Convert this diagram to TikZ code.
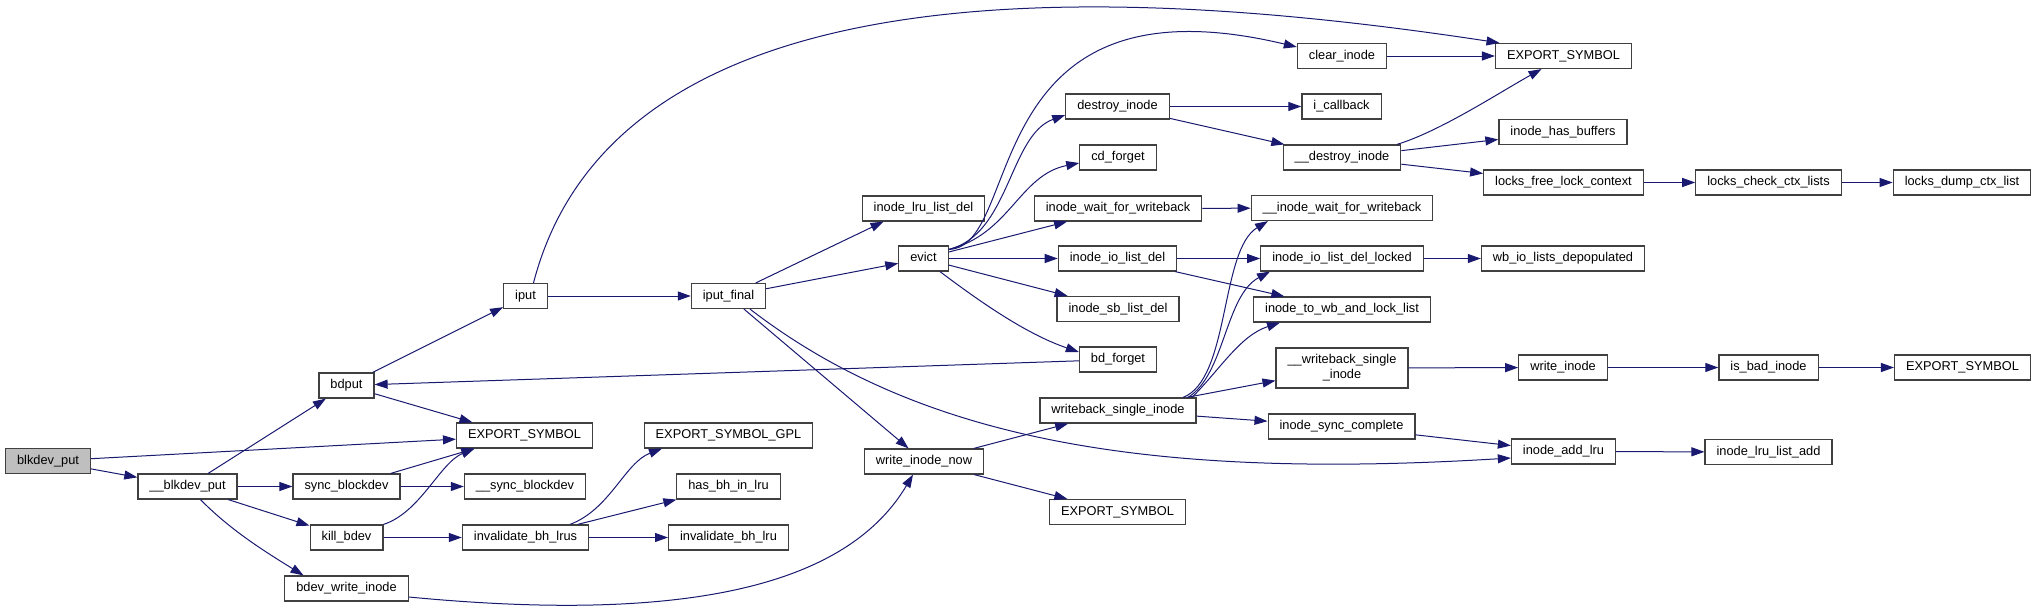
\documentclass[tikz,border=0pt]{standalone}
\usepackage{fontspec}
\setmainfont{Liberation Sans}
\usepackage{xcolor}
\usepackage{tikz}
\usetikzlibrary{arrows.meta}

\definecolor{edgeblue}{HTML}{191970}
\definecolor{rootgray}{HTML}{BFBFBF}

\begin{document}
\begin{tikzpicture}[x=1pt, y=-1pt,
    base/.style={rectangle, draw=black!75, line width=1.2pt, fill=white, minimum height=25pt, inner xsep=11.5pt, inner ysep=2pt, align=center, font=\fontsize{12.8}{15}\selectfont},
    func/.style={base, text height=9.5pt, text depth=3pt},
    func2/.style={base, minimum height=40pt},
    root/.style={func, fill=rootgray},
    call/.style={draw=edgeblue, line width=1pt, -{Triangle[length=13pt, width=9pt]}}
]
\useasboundingbox (0,0) rectangle (2039,613);

\node[root] (blkdevput) at (48,461) {blkdev\_put};
\node[func] (blkput) at (187.5,486.5) {\_\_blkdev\_put};
\node[func] (bdput) at (346.5,385.5) {bdput};
\node[func] (syncbd) at (346.5,486.5) {sync\_blockdev};
\node[func] (killbdev) at (346.5,537.5) {kill\_bdev};
\node[func] (bdevwi) at (346.5,588.5) {bdev\_write\_inode};
\node[func] (exportA) at (524.5,435.5) {EXPORT\_SYMBOL};
\node[func] (syncbdA) at (525,486.5) {\_\_sync\_blockdev};
\node[func] (invlrus) at (525.5,537.5) {invalidate\_bh\_lrus};
\node[func] (iput) at (525.5,296) {iput};
\node[func] (iputfinal) at (728.5,296) {iput\_final};
\node[func] (exportgpl) at (728.5,435.5) {EXPORT\_SYMBOL\_GPL};
\node[func] (hasbh) at (728.5,486.5) {has\_bh\_in\_lru};
\node[func] (invlru) at (728.5,537.5) {invalidate\_bh\_lru};
\node[func] (lrudel) at (923.5,208.5) {inode\_lru\_list\_del};
\node[func] (evict) at (923.5,258.5) {evict};
\node[func] (writenow) at (924,461.5) {write\_inode\_now};
\node[func] (destroy) at (1117.5,106.5) {destroy\_inode};
\node[func] (cdforget) at (1118,157.5) {cd\_forget};
\node[func] (waitwb) at (1118,208.5) {inode\_wait\_for\_writeback};
\node[func] (iodel) at (1117.5,258.5) {inode\_io\_list\_del};
\node[func] (sbdel) at (1118,309) {inode\_sb\_list\_del};
\node[func] (bdforget) at (1118,359.5) {bd\_forget};
\node[func] (wbsingle) at (1118,410.5) {writeback\_single\_inode};
\node[func] (exportB) at (1117.5,512) {EXPORT\_SYMBOL};
\node[func] (clear) at (1342,56) {clear\_inode};
\node[func] (icallback) at (1341.5,106.5) {i\_callback};
\node[func] (destroyA) at (1342,157.5) {\_\_destroy\_inode};
\node[func] (waitwbA) at (1342,208) {\_\_inode\_wait\_for\_writeback};
\node[func] (iodellocked) at (1342,258.5) {inode\_io\_list\_del\_locked};
\node[func] (towb) at (1342,309.5) {inode\_to\_wb\_and\_lock\_list};
\node[func2] (wbsingleA) at (1342,368) {\_\_writeback\_single\\\_inode};
\node[func] (synccomplete) at (1341.5,426.5) {inode\_sync\_complete};
\node[func] (exportC) at (1563.5,56) {EXPORT\_SYMBOL};
\node[func] (hasbuffers) at (1563,132) {inode\_has\_buffers};
\node[func] (lockfree) at (1563.5,182.5) {locks\_free\_lock\_context};
\node[func] (depop) at (1563,258.5) {wb\_io\_lists\_depopulated};
\node[func] (writeinode) at (1563,367.5) {write\_inode};
\node[func] (addlru) at (1563.5,451.5) {inode\_add\_lru};
\node[func] (checkctx) at (1768.5,182.5) {locks\_check\_ctx\_lists};
\node[func] (badinode) at (1768.5,367.5) {is\_bad\_inode};
\node[func] (lruadd) at (1768.5,452) {inode\_lru\_list\_add};
\node[func] (dumpctx) at (1962,182.5) {locks\_dump\_ctx\_list};
\node[func] (exportD) at (1962.5,367.5) {EXPORT\_SYMBOL};

\draw[call] (blkdevput) -- (exportA);
\draw[call] (blkdevput) -- (blkput);
\draw[call] (blkput) -- (bdput);
\draw[call] (blkput) -- (syncbd);
\draw[call] (blkput) -- (killbdev);
\draw[call] ([xshift=13pt]blkput.south) .. controls ([shift={(42.5,30)}]blkput.south) and ([shift={(-83.5,-25)}]bdevwi.north) .. ([xshift=-43pt]bdevwi.north);
\draw[call] (bdput) -- (iput);
\draw[call] (bdput) -- ([xshift=-52pt]exportA.north);
\draw[call] (syncbd) -- ([xshift=-50pt]exportA.south);
\draw[call] (syncbd) -- (syncbdA);
\draw[call] (killbdev.north east) .. controls ([shift={(37,-12)}]killbdev.north east) and ([shift={(-84.5,14)}]exportA.south) .. ([xshift=-50pt]exportA.south);
\draw[call] (killbdev) -- (invlrus);
\draw[call] ([xshift=44.5pt]invlrus.north) .. controls ([shift={(84.5,-15)}]invlrus.north) and ([shift={(-103.5,14)}]exportgpl.south) .. ([xshift=-66.5pt]exportgpl.south);
\draw[call] (invlrus) -- (hasbh);
\draw[call] (invlrus) -- (invlru);
\draw[call] ([yshift=-8.5pt]bdevwi.east) .. controls ([shift={(292,36.5)}]bdevwi.east) and ([shift={(-74,106)}]writenow.south) .. ([xshift=-11pt]writenow.south);
\draw[call] ([xshift=8pt]iput.north) .. controls ([shift={(94.5,-333)}]iput.north) and ([shift={(-413.5,-53)}]exportC.north) .. ([xshift=-64pt]exportC.north);
\draw[call] (iput) -- (iputfinal);
\draw[call] (iputfinal) -- ([xshift=-40pt]lrudel.south);
\draw[call] (iputfinal) -- (evict);
\draw[call] (iputfinal) -- (writenow);
\draw[call] ([xshift=21.5pt]iputfinal.south) .. controls ([shift={(191.5,131)}]iputfinal.south) and ([shift={(-362,28.5)}]addlru.west) .. ([yshift=-6.5pt]addlru.west);
\draw[call] ([yshift=-4pt]evict.north east) .. controls ([shift={(76,2)}]evict.north east) and ([shift={(-323,-86)}]clear.west) .. ([yshift=9pt]clear.west);
\draw[call] ([yshift=-4pt]evict.north east) .. controls ([shift={(61,-11)}]evict.north east) and ([shift={(-56,28.5)}]destroy.west) .. ([yshift=-8.5pt]destroy.west);
\draw[call] ([yshift=-4pt]evict.north east) .. controls ([shift={(61,-11)}]evict.north east) and ([shift={(-60,17.5)}]cdforget.west) .. ([yshift=-5.5pt]cdforget.west);
\draw[call] (evict) -- (waitwb);
\draw[call] (evict) -- (iodel);
\draw[call] (evict) -- (sbdel);
\draw[call] ([xshift=16.5pt]evict.south) .. controls ([shift={(61.5,34)}]evict.south) and ([shift={(-50,-24.5)}]bdforget.west) .. ([yshift=7.5pt]bdforget.west);
\draw[call] (bdforget) -- (bdput);
\draw[call] (destroy) -- (icallback);
\draw[call] (destroy) -- (destroyA);
\draw[call] ([xshift=55pt]destroyA.north) .. controls ([shift={(98,-13)}]destroyA.north) and ([shift={(-63.5,23)}]exportC.south) .. ([xshift=-22pt]exportC.south);
\draw[call] (destroyA) -- (hasbuffers);
\draw[call] (destroyA) -- (lockfree);
\draw[call] (lockfree) -- (checkctx);
\draw[call] (checkctx) -- (dumpctx);
\draw[call] (clear) -- (exportC);
\draw[call] (waitwb) -- (waitwbA);
\draw[call] (iodel) -- (iodellocked);
\draw[call] (iodel) -- (towb);
\draw[call] (iodellocked) -- (depop);
\draw[call] (writenow) -- (wbsingle);
\draw[call] (writenow) -- (exportB);
\draw[call] ([xshift=65pt]wbsingle.north) .. controls ([shift={(112,-18)}]wbsingle.north) and ([shift={(-122,29)}]waitwbA.south) .. ([xshift=-74pt]waitwbA.south);
\draw[call] ([xshift=70pt]wbsingle.north) .. controls ([shift={(107,-23)}]wbsingle.north) and ([shift={(-117,24)}]iodellocked.south) .. ([xshift=-72pt]iodellocked.south);
\draw[call] ([xshift=74pt]wbsingle.north) .. controls ([shift={(102,-28)}]wbsingle.north) and ([shift={(-102,13)}]towb.south) .. ([xshift=-62pt]towb.south);
\draw[call] (wbsingle) -- (wbsingleA);
\draw[call] (wbsingle) -- (synccomplete);
\draw[call] (synccomplete) -- (addlru);
\draw[call] (addlru) -- (lruadd);
\draw[call] (wbsingleA) -- (writeinode);
\draw[call] (writeinode) -- (badinode);
\draw[call] (badinode) -- (exportD);
\end{tikzpicture}
\end{document}
